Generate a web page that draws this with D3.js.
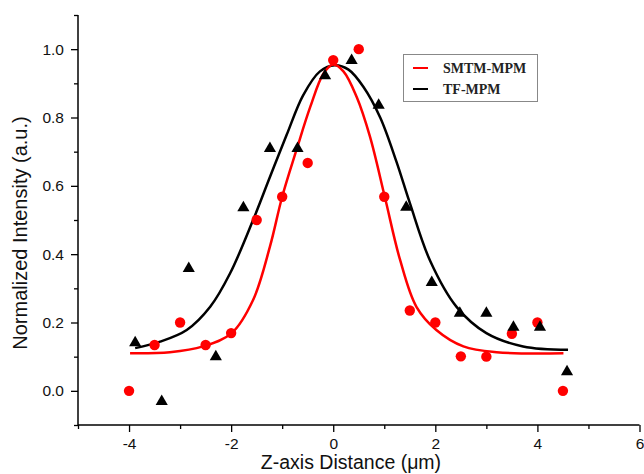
<!DOCTYPE html>
<html>
<head>
<meta charset="utf-8">
<script src="https://cdn.jsdelivr.net/npm/d3@7"></script>
<style>
  html, body { margin: 0; padding: 0; background: #fff; }
  svg { display: block; }
</style>
</head>
<body>
<svg id="chart" width="644" height="474"></svg>
<script>
// measured points (SMTM-MPM = red circles, TF-MPM = black triangles)
const redX = [-4, -3.5, -3, -2.5, -2, -1.5, -1, -0.5, 0, 0.5, 1, 1.5, 2, 2.5, 3, 3.5, 4, 4.5];
const redY = [0.0, 0.134, 0.2, 0.134, 0.169, 0.5, 0.568, 0.667, 0.968, 1.0, 0.568, 0.235, 0.2, 0.101, 0.1, 0.167, 0.2, 0.0];

const triX = [-3.88, -3.36, -2.83, -2.30, -1.76, -1.24, -0.70, -0.16, 0.36, 0.89, 1.43, 1.93, 2.48, 3.0, 3.53, 4.05, 4.58];
const triY = [0.146, -0.026, 0.363, 0.105, 0.541, 0.714, 0.714, 0.927, 0.972, 0.841, 0.542, 0.322, 0.232, 0.232, 0.191, 0.191, 0.061];

// fitted curves
const redFitX = [-3.98, -3.2, -2.55, -1.99, -1.57, -1.24, -1.0, -0.72, -0.45, -0.19, 0, 0.2, 0.46, 0.72, 1.01, 1.31, 1.63, 2.02, 2.55, 3.2, 4.51];
const redFitY = [0.110, 0.113, 0.13, 0.169, 0.266, 0.422, 0.568, 0.705, 0.831, 0.929, 0.955, 0.935, 0.86, 0.744, 0.568, 0.383, 0.246, 0.178, 0.13, 0.113, 0.110];

const blackFitX = [-3.88, -3.39, -2.87, -2.41, -2.02, -1.57, -1.24, -0.91, -0.59, -0.26, 0.03, 0.3, 0.59, 0.92, 1.24, 1.5, 1.9, 2.42, 3.0, 3.72, 4.6];
const blackFitY = [0.125, 0.144, 0.178, 0.246, 0.344, 0.5, 0.626, 0.75, 0.865, 0.935, 0.953, 0.94, 0.89, 0.80, 0.67, 0.55, 0.38, 0.245, 0.169, 0.13, 0.12];

const xMajor = [-4, -2, 0, 2, 4, 6];
const xMinor = [-5, -3, -1, 1, 3, 5];
const yMajor = [0, 0.2, 0.4, 0.6, 0.8, 1.0];
const yMinor = [-0.1, 0.1, 0.3, 0.5, 0.7, 0.9, 1.1];

const legendLabels = ['SMTM-MPM', 'TF-MPM'];
const legendColors = ['#ff0000', '#000000'];

const svg = d3.select('#chart');
svg.append('rect').attr('width', 644).attr('height', 474).attr('fill', '#fff');

const x = d3.scaleLinear().domain([-5, 6]).range([78, 639.5]);
const y = d3.scaleLinear().domain([-0.1, 1.1]).range([425, 15]);

const font = 'Arial, "Liberation Sans", sans-serif';

// axes
const xAxis = svg.append('g').attr('transform', `translate(0,${y(-0.1)})`)
  .call(d3.axisBottom(x).tickValues(xMajor).tickSize(7).tickPadding(6)
    .tickFormat(d => d < 0 ? '-' + Math.abs(d) : d));
svg.append('g').attr('transform', `translate(0,${y(-0.1)})`)
  .call(d3.axisBottom(x).tickValues(xMinor).tickSize(4).tickFormat(''))
  .select('.domain').remove();

const yAxis = svg.append('g').attr('transform', `translate(${x(-5)},0)`)
  .call(d3.axisLeft(y).tickValues(yMajor).tickSize(7).tickPadding(7).tickFormat(d3.format('.1f')));
svg.append('g').attr('transform', `translate(${x(-5)},0)`)
  .call(d3.axisLeft(y).tickValues(yMinor).tickSize(4).tickFormat(''))
  .select('.domain').remove();

svg.selectAll('.domain').attr('stroke', '#000').attr('stroke-width', 1.5);
svg.selectAll('.tick line').attr('stroke', '#000').attr('stroke-width', 1.3);
svg.selectAll('.tick text').attr('font-family', font).attr('font-size', 15.5).attr('fill', '#111');
xAxis.selectAll('.domain').attr('d', `M${x(-5)},0H${x(6)}`);
yAxis.selectAll('.domain').attr('d', `M0,${y(1.1)}V${y(-0.1)}`);

// axis titles
svg.append('text')
  .attr('x', 351).attr('y', 469)
  .attr('text-anchor', 'middle')
  .attr('font-family', font).attr('font-size', 19.5).attr('fill', '#111')
  .text('Z-axis Distance (μm)');

svg.append('text')
  .attr('transform', 'translate(27,233) rotate(-90)')
  .attr('text-anchor', 'middle')
  .attr('font-family', font).attr('font-size', 20).attr('fill', '#111')
  .text('Normalized Intensity (a.u.)');

// fitted curves
const line = d3.line().x(d => x(d[0])).y(d => y(d[1])).curve(d3.curveCatmullRom.alpha(0.5));
svg.append('path')
  .datum(d3.zip(blackFitX, blackFitY))
  .attr('d', line).attr('fill', 'none').attr('stroke', '#000').attr('stroke-width', 2.5);
svg.append('path')
  .datum(d3.zip(redFitX, redFitY))
  .attr('d', line).attr('fill', 'none').attr('stroke', '#ff0000').attr('stroke-width', 2.5);

// markers
svg.append('g').selectAll('circle')
  .data(d3.zip(redX, redY))
  .join('circle')
  .attr('cx', d => x(d[0])).attr('cy', d => y(d[1])).attr('r', 5.2)
  .attr('fill', '#ff0000');

const tri = d3.symbol(d3.symbolTriangle).size(64);
svg.append('g').selectAll('path')
  .data(d3.zip(triX, triY))
  .join('path')
  .attr('d', tri)
  .attr('transform', d => `translate(${x(d[0])},${y(d[1]) + 1.7})`)
  .attr('fill', '#000');

// legend
const legend = svg.append('g');
legend.append('rect')
  .attr('x', 403.5).attr('y', 54.5).attr('width', 134).attr('height', 47)
  .attr('fill', '#fff').attr('stroke', '#888').attr('stroke-width', 1);
legendLabels.forEach((label, i) => {
  const ly = 68 + i * 21;
  legend.append('line')
    .attr('x1', 413).attr('x2', 428).attr('y1', ly).attr('y2', ly)
    .attr('stroke', legendColors[i]).attr('stroke-width', 2);
  legend.append('text')
    .attr('x', 443).attr('y', ly + 4.5)
    .attr('font-family', '"Times New Roman", "Liberation Serif", serif')
    .attr('font-weight', 'bold').attr('font-size', 14).attr('fill', '#222')
    .text(label);
});
</script>
</body>
</html>
